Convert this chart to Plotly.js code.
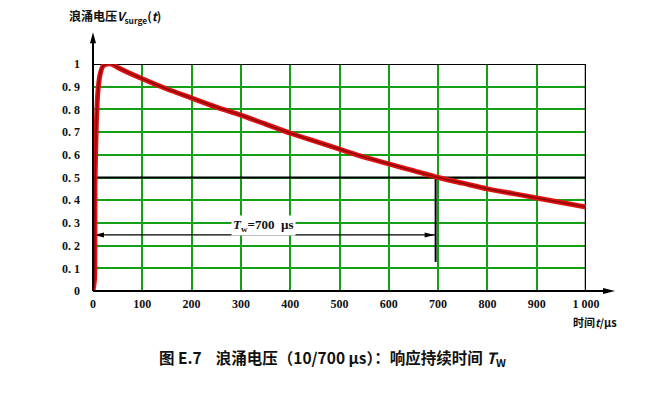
<!DOCTYPE html>
<html><head><meta charset="utf-8">
<script src="https://cdn.plot.ly/plotly-3.0.1.min.js"></script>
<style>html,body{margin:0;padding:0;background:#fff;}#chart{width:649px;height:396px;}</style>
</head><body><div id="chart"></div>
<script>
// Surge voltage waveform (10/700 µs), normalized
const timeUs = [0, 3, 4, 7, 10, 14, 20, 28, 38, 50, 100, 150, 200, 250, 300, 350, 400, 450, 500, 550, 600, 650, 700, 750, 800, 850, 900, 950, 1000];
const voltage = [0, 0.05, 0.47, 0.75, 0.88, 0.95, 0.99, 1.0, 1.0, 0.985, 0.935, 0.89, 0.85, 0.81, 0.775, 0.735, 0.695, 0.66, 0.625, 0.59, 0.56, 0.53, 0.5, 0.475, 0.45, 0.43, 0.41, 0.39, 0.37];
const xTickVals = [0, 100, 200, 300, 400, 500, 600, 700, 800, 900, 1000];
const xTickText = ['0', '100', '200', '300', '400', '500', '600', '700', '800', '900', '1\u00a0000'];
const yTickVals = [0, 0.1, 0.2, 0.3, 0.4, 0.5, 0.6, 0.7, 0.8, 0.9, 1];
const yTickText = ['0', '0.\u00a01', '0.\u00a02', '0.\u00a03', '0.\u00a04', '0.\u00a05', '0.\u00a06', '0.\u00a07', '0.\u00a08', '0.\u00a09', '1'];
const halfLevel = 0.5;
const twEnd = 695;
const twLevel = 0.247;
const twMarkerBottom = 0.128;

const serif = '"Liberation Serif", "Times New Roman", serif';
const tickFont = {family: serif, size: 12, color: '#111', weight: 'bold'};
const cjk = '"Noto Sans CJK SC", sans-serif';

const traces = [
  {x: timeUs, y: voltage, mode: 'lines', line: {color: '#e31010', width: 5, shape: 'spline', smoothing: 0.6}, hoverinfo: 'skip', cliponaxis: false},
  {x: timeUs, y: voltage, mode: 'lines', line: {color: '#8a0a0a', width: 1.6, shape: 'spline', smoothing: 0.6}, hoverinfo: 'skip', cliponaxis: false}
];

const pxX = 1 / 493, pxY = 1 / 227;
const yTip = 1.14, xTip = 1.059;
function tri(x0, y0, x1, y1, x2, y2) { return `M${x0},${y0} L${x1},${y1} L${x2},${y2} Z`; }

const green = '#14a014';
const layout = {
  width: 649, height: 396,
  margin: {l: 93, r: 63, t: 64, b: 105},
  paper_bgcolor: '#fff', plot_bgcolor: '#fff',
  showlegend: false,
  xaxis: {range: [0, 1000], tickvals: xTickVals, ticktext: xTickText, showgrid: true, gridcolor: green, gridwidth: 2,
          zeroline: false, showline: false, ticks: '', tickfont: tickFont, ticklabelstandoff: 4, fixedrange: true},
  yaxis: {range: [0, 1], tickvals: yTickVals, ticktext: yTickText, showgrid: true, gridcolor: green, gridwidth: 2,
          zeroline: false, showline: false, ticks: '', tickfont: tickFont, ticklabelstandoff: 12, fixedrange: true},
  shapes: [
    {type: 'line', xref: 'x', yref: 'y', x0: 0, x1: 1000, y0: 1, y1: 1, line: {color: '#000', width: 2}, layer: 'between'},
    {type: 'line', xref: 'x', yref: 'y', x0: 0, x1: 1000, y0: halfLevel, y1: halfLevel, line: {color: '#000', width: 2}, layer: 'between'},
    {type: 'line', xref: 'x', yref: 'y', x0: 1000, x1: 1000, y0: 0, y1: 1, line: {color: '#000', width: 2.5}, layer: 'between'},
    {type: 'line', xref: 'x', yref: 'y', x0: twEnd, x1: twEnd, y0: twMarkerBottom, y1: halfLevel, line: {color: '#000', width: 2}, layer: 'between'},
    {type: 'line', xref: 'x', yref: 'y', x0: 0, x1: twEnd, y0: twLevel, y1: twLevel, line: {color: '#000', width: 1.2}, layer: 'between'},
    {type: 'path', xref: 'x', yref: 'y', path: tri(2, twLevel, 2 + 10 * 1000 * pxX, twLevel + 2.5 * pxY, 2 + 10 * 1000 * pxX, twLevel - 2.5 * pxY),
     fillcolor: '#000', line: {width: 0}, layer: 'between'},
    {type: 'path', xref: 'x', yref: 'y', path: tri(twEnd - 2, twLevel, twEnd - 2 - 10 * 1000 * pxX, twLevel + 2.5 * pxY, twEnd - 2 - 10 * 1000 * pxX, twLevel - 2.5 * pxY),
     fillcolor: '#000', line: {width: 0}, layer: 'between'},
    {type: 'line', xref: 'paper', yref: 'paper', x0: 0, x1: 0, y0: 0, y1: yTip - 6 * pxY, line: {color: '#000', width: 2}},
    {type: 'path', xref: 'paper', yref: 'paper', path: tri(0, yTip, -3 * pxX, yTip - 11 * pxY, 3 * pxX, yTip - 11 * pxY), fillcolor: '#000', line: {width: 0}},
    {type: 'line', xref: 'paper', yref: 'paper', x0: 0, x1: xTip - 6 * pxX, y0: 0, y1: 0, line: {color: '#000', width: 2}},
    {type: 'path', xref: 'paper', yref: 'paper', path: tri(xTip, 0, xTip - 12 * pxX, 3 * pxY, xTip - 12 * pxX, -3 * pxY), fillcolor: '#000', line: {width: 0}}
  ],
  annotations: [
    {xref: 'x', yref: 'y', x: 345, y: 0.288, text: '<i>T</i><sub>w</sub>=700  µs', showarrow: false,
     bgcolor: '#fff', borderpad: 1, font: {family: serif, size: 13, color: '#111', weight: 'bold'}},
    {xref: 'paper', yref: 'paper', x: -0.053, y: 1.21, xanchor: 'left', yanchor: 'middle', showarrow: false,
     text: '浪涌电压<i>V</i><sub>surge</sub>(<i>t</i>)', font: {family: cjk, size: 12, color: '#111', weight: 'bold'}},
    {xref: 'paper', yref: 'paper', x: 1.018, y: -0.137, xanchor: 'center', yanchor: 'middle', showarrow: false,
     text: '时间<i>t</i>/µs', font: {family: cjk, size: 11, color: '#111', weight: 'bold'}},
    {xref: 'paper', yref: 'paper', x: 0.13, y: -0.295, xanchor: 'left', yanchor: 'middle', showarrow: false,
     text: '图 E.7\u00a0\u00a0\u00a0\u00a0浪涌电压（10/700 µs）：响应持续时间 <i>T</i><sub>W</sub>', font: {family: cjk, size: 15.5, color: '#111', weight: 'bold'}}
  ]
};

Plotly.newPlot('chart', traces, layout, {staticPlot: true, displayModeBar: false});
</script>
</body></html>
